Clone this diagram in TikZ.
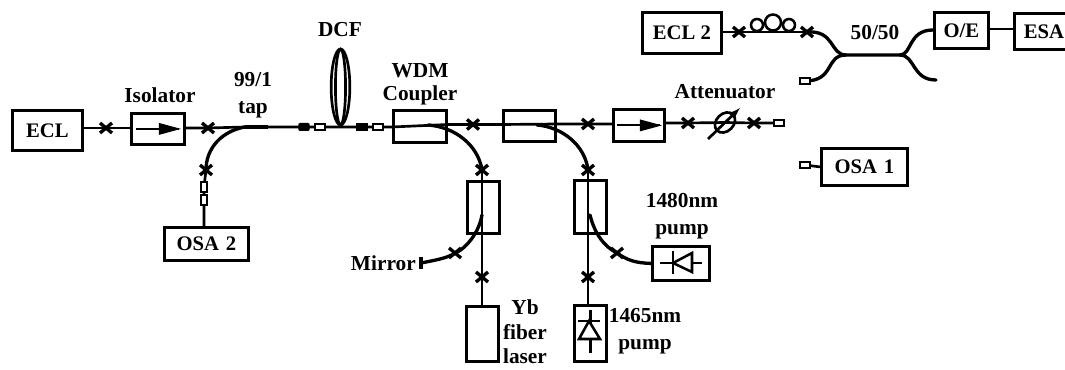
\documentclass[tikz,border=0pt]{standalone}
\usepackage{fontspec}
\setmainfont{Liberation Serif}
\usetikzlibrary{calc}
\tikzset{
  fib/.style={line width=2pt,line cap=round},
  thickfib/.style={line width=2.5pt,line cap=round},
  boxn/.style={draw,line width=2.1pt,inner sep=0pt,font=\fontsize{15.5}{16}\selectfont\bfseries},
  lab/.style={inner sep=0pt,align=center,font=\fontsize{16}{19}\selectfont\bfseries},
  pad/.style={draw,fill=white,line width=1.5pt,minimum width=7pt,minimum height=4.5pt,inner sep=0pt},
  padv/.style={draw,fill=white,line width=1.5pt,minimum width=4.5pt,minimum height=7pt,inner sep=0pt},
  xmk/.pic={\draw[line width=2.5pt] (-6,-5) -- (6,5) (-6,5) -- (6,-5);}
}
\newcommand{\bx}[6]{\node[boxn,minimum width=#4*0.75pt,minimum height=#5*0.75pt,anchor=north west] (#1) at (#2,#3) {#6};}
\begin{document}
\begin{tikzpicture}[x=0.75pt,y=-0.75pt]
\useasboundingbox (0,0) rectangle (1065,370);
% boxes
\bx{ecl}{11}{109}{70}{40}{ECL}
\bx{iso1}{130}{112}{53}{31}{}
\bx{osa2}{163}{226}{84}{33}{OSA\,\,2}
\bx{wdm1}{392}{109}{53}{32}{}
\bx{wdm2}{502}{109}{52}{31}{}
\bx{iso2}{612}{108}{51}{32}{}
\bx{vc1}{466}{180}{32}{52}{}
\bx{vc2}{573}{179}{32}{53}{}
\bx{yb}{465}{305}{32}{55}{}
\bx{p1465}{573}{304}{32}{56}{}
\bx{p1480}{651}{245}{57}{34}{}
\bx{osa1}{820}{147}{86}{37}{OSA\,\,1}
\bx{ecltwo}{641}{11}{79}{41}{ECL 2}
\bx{oe}{933}{11}{54}{36}{O/E}
\bx{esa}{1013}{12}{59}{36}{ESA}
% coordinates on fibres
\coordinate (x1) at (106,128);
\coordinate (x2) at (208,128);
\coordinate (tapa) at (245,127);
\coordinate (tapb) at (268,127);
\coordinate (x3) at (206,170);
\coordinate (x4) at (473,124.5);
\coordinate (x5) at (588,124);
\coordinate (x6) at (688,123);
\coordinate (x7) at (754,123);
\coordinate (att) at (725,122.5);
\coordinate (endp) at (779,123);
\coordinate (p1) at (304,127);
\coordinate (p2) at (320,127);
\coordinate (p3) at (362,127);
\coordinate (p4) at (378,127);
\coordinate (p5) at (204,187);
\coordinate (p6) at (204,200);
\coordinate (v1t) at (482,170);
\coordinate (v2t) at (588,170);
\coordinate (x8) at (482,277);
\coordinate (x9) at (588,277);
\coordinate (x10) at (455,253);
\coordinate (x11) at (617,253);
\coordinate (mir) at (421,263);
\coordinate (osa1p) at (805,165);
\coordinate (x12) at (739,32);
\coordinate (x13) at (807,32);
\coordinate (cl) at (846,55);
\coordinate (cr) at (900,55);
\coordinate (lowp) at (805,81);
\coordinate (lowr) at (936,80);
% main line
\draw[fib] (ecl.east |- x1) -- (x1) -- (iso1.west |- x1);
\draw[fib] (iso1.east |- x2) -- (x2) -- (tapa) -- (p1) -- (p4) -- (wdm1.west |- p4);
\draw[fib] (wdm1.west |- p4) -- (wdm1.east |- x4) -- (x4) -- (wdm2.west |- x4) -- (wdm2.east |- x5) -- (x5) -- (iso2.west |- x5);
\draw[fib] (iso2.east |- x6) -- (x6) -- (att) -- (x7) -- (endp);
\draw[line width=2.6pt] (tapa) -- (tapb);
\draw[thickfib] (tapa) .. controls (222,131) and (206,148) .. (x3);
\draw[fib] (x3) -- (p5) -- (p6) -- (osa2.north -| p6);
% WDM branches
\draw[thickfib] (428,125) .. controls (455,127) and (478,145) .. (v1t);
\draw[thickfib] (537,125) .. controls (562,127) and (585,145) .. (v2t);
\draw[fib] (v1t) -- (vc1.north -| v1t) -- (x8) -- (yb.north -| x8);
\draw[fib] (v2t) -- (vc2.north -| v2t) -- (x9) -- (p1465.north -| x9);
\draw[thickfib] (482,215) .. controls (478,238) and (460,252) .. (x10) .. controls (448,258) and (436,260) .. (mir);
\draw[thickfib] (590,215) .. controls (595,235) and (605,247) .. (x11) .. controls (627,260) and (635,263) .. (p1480.west);
\draw[line width=3pt] (mir) ++(0,-6) -- ++(0,12);
% top right
\draw[fib] (ecltwo.east |- x12) -- (x12) -- (x13);
\draw[thickfib] (x13) .. controls (835,30) and (830,55) .. (cl) -- (cr);
\draw[thickfib] (lowp) .. controls (835,81) and (825,55) .. (cl);
\draw[thickfib] (oe.west |- 0,30) .. controls (908,30) and (912,55) .. (cr);
\draw[thickfib] (lowr) .. controls (912,80) and (915,55) .. (cr);
\draw[fib] (oe.east |- 0,29) -- (esa.west |- 0,29);
\draw[fib] (osa1.west) -- (osa1p);
% polarization controller loops
\draw[line width=1.9pt] (757,25) circle (4.5pt);
\draw[line width=1.9pt] (773,22.5) circle (6pt);
\draw[line width=1.9pt] (789,25) circle (4.5pt);
% DCF loops
\draw[line width=2pt] (340.5,87) ellipse (7pt and 28.5pt);
\draw[line width=2pt] (340.5,87) ellipse (3.8pt and 28.5pt);
% pads
\node[pad,rounded corners=0.5pt,fill=black] (pd1) at (p1) {};
\node[pad] (pd2) at (p2) {};
\node[pad,fill=black] (pd3) at (p3) {};
\node[pad] (pd4) at (p4) {};
\node[padv] (pd5) at (p5) {};
\node[padv] (pd6) at (p6) {};
\node[pad] (pd7) at (endp) {};
\node[pad] (pd8) at (osa1p) {};
\node[pad] (pd9) at (lowp) {};
% x marks
\foreach \c in {x1,x2,x3,x4,x5,x6,x7,x8,x9,x10,x11,x12,x13,v1t,v2t} \path (\c) pic {xmk};
% isolators
\foreach \b in {iso1,iso2}{
 \draw[line width=1.6pt] ($(\b.center)+(-22,0)$) -- ($(\b.center)+(21,0)$);
 \fill ($(\b.center)+(23,0)$) -- ($(\b.center)+(1,-6)$) -- ($(\b.center)+(1,6)$) -- cycle;
}
% attenuator
\draw[line width=2pt,rotate around={45:(att)}] (att) ellipse (8.5pt and 6.5pt);
\draw[line width=2pt,-latex] (708,139) -- (740,108);
% diodes
\draw[line width=1.9pt] (p1465.north |- 0,310) -- (p1465.south |- 0,353);
\fill[white] (589,321) -- (579,339) -- (600,339) -- cycle;
\draw[line width=1.9pt] (589,321) -- (579,339) -- (600,339) -- cycle;
\draw[line width=1.9pt] (578,321) -- (600,321);
\draw[line width=1.9pt] (660,263) -- (702,263);
\fill[white] (673,263) -- (692,253) -- (692,272) -- cycle;
\draw[line width=1.9pt] (673,263) -- (692,253) -- (692,272) -- cycle;
\draw[line width=1.9pt] (673,251) -- (673,274);
% labels
\node[lab] (l1) at (160,95) {Isolator};
\node[lab] (l2) at (253,95) {99/1\\[1pt]tap};
\node[lab] (l3) at (340,30) {DCF};
\node[lab] (l4) at (420,84) {WDM\\[-2pt]Coupler};
\node[lab] (l5) at (725,92) {Attenuator};
\node[lab,anchor=east] (l6) at (416,263) {Mirror};
\node[lab] (l7) at (525,332) {Yb\\[-0.5pt]fiber\\[-0.5pt]laser};
\node[lab] (l8) at (645,331) {1465nm\\[1pt]pump};
\node[lab] (l9) at (682,216) {1480nm\\[1pt]pump};
\node[lab] (l10) at (875,33) {50/50};
\end{tikzpicture}
\end{document}
